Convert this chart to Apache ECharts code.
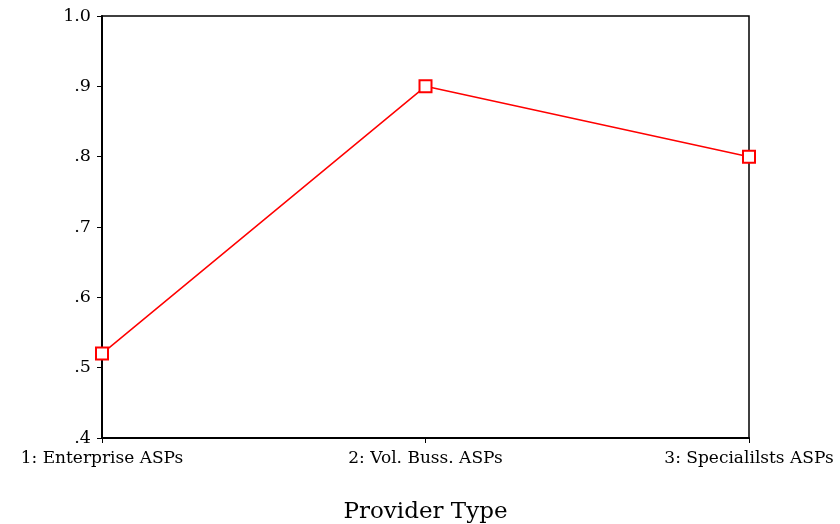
<!DOCTYPE html>
<html>
<head>
<meta charset="utf-8">
<script src="https://cdn.jsdelivr.net/npm/echarts@6/dist/echarts.min.js"></script>
<style>html,body{margin:0;padding:0;background:#fff;overflow:hidden;}#c{width:840px;height:524px;}</style>
</head>
<body>
<div id="c"></div>
<script>
const categories = ['1: Enterprise ASPs', '2: Vol. Buss. ASPs', '3: Specialilsts ASPs'];
const values = [0.52, 0.90, 0.80];
const yTickLabels = {'0.4': '.4', '0.5': '.5', '0.6': '.6', '0.7': '.7', '0.8': '.8', '0.9': '.9', '1': '1.0'};
const xTitle = 'Provider Type';

const font = '"DejaVu Serif", "Liberation Serif", serif';
const chart = echarts.init(document.getElementById('c'), null, {renderer: 'canvas'});
chart.setOption({
  animation: false,
  backgroundColor: '#fff',
  grid: {left: 102, right: 91, top: 16, bottom: 86, outerBoundsMode: 'none', containLabel: false,
    show: true, borderColor: '#000', borderWidth: 1.5, backgroundColor: 'transparent'},
  xAxis: {
    type: 'category',
    data: categories,
    boundaryGap: false,
    name: xTitle,
    nameLocation: 'middle',
    nameGap: 63,
    nameTextStyle: {fontFamily: font, fontSize: 23, color: '#000'},
    axisLine: {lineStyle: {color: '#000', width: 2}},
    axisTick: {show: true, length: 5, lineStyle: {color: '#000'}},
    axisLabel: {fontFamily: font, fontSize: 17, color: '#000', margin: 12, showMinLabel: true, showMaxLabel: true, hideOverlap: false},
    splitLine: {show: false}
  },
  yAxis: {
    type: 'value',
    min: 0.4, max: 1.0, interval: 0.1,
    axisLine: {show: true, lineStyle: {color: '#000', width: 2}},
    axisTick: {show: true, length: 5, lineStyle: {color: '#000'}},
    axisLabel: {fontFamily: font, fontSize: 17.5, color: '#000', margin: 11,
      formatter: v => yTickLabels[String(Math.round(v * 10) / 10)] || ''},
    splitLine: {show: false}
  },
  series: [{
    type: 'line',
    data: values,
    symbol: 'emptyRect',
    symbolSize: 12,
    lineStyle: {color: '#ff0000', width: 1.5},
    itemStyle: {color: '#ff0000', borderColor: '#ff0000', borderWidth: 1.5}
  }]
});
</script>
</body>
</html>
